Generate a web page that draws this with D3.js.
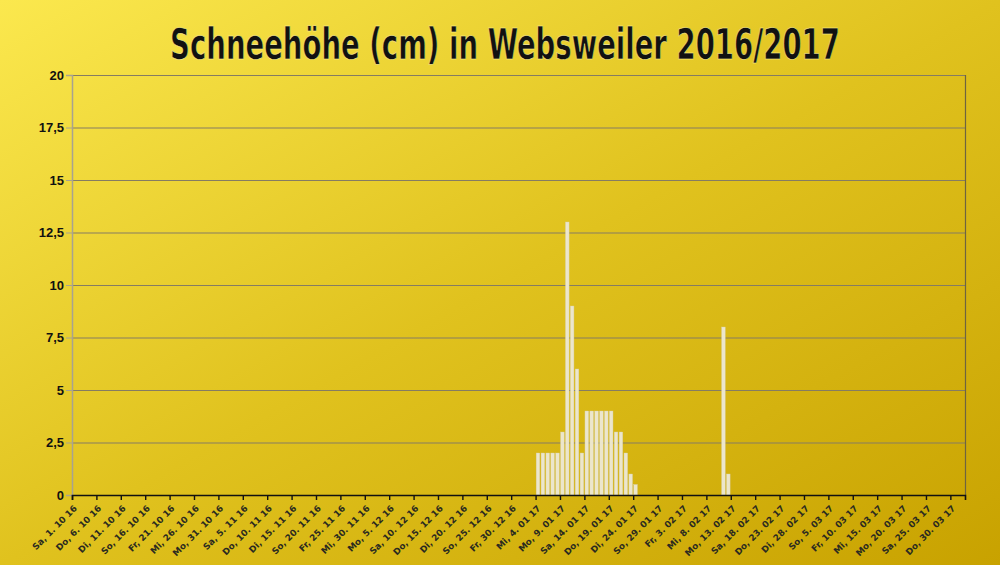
<!DOCTYPE html>
<html><head><meta charset="utf-8">
<script src="https://cdn.jsdelivr.net/npm/d3@7"></script>
<style>body{margin:0;overflow:hidden}svg{display:block}</style>
</head><body>
<svg id="c" width="1000" height="565"></svg>
<script>
const title = "Schneehöhe (cm) in Websweiler 2016/2017";
// day index 0 = Sa, 1.10.2016 ; domain spans 183 days
const dayCount = 183;
const tickDays = d3.range(0, 181, 5);
const tickLabels = ["Sa, 1. 10 16","Do, 6. 10 16","Di, 11. 10 16","So, 16. 10 16","Fr, 21. 10 16","Mi, 26. 10 16","Mo, 31. 10 16","Sa, 5. 11 16","Do, 10. 11 16","Di, 15. 11 16","So, 20. 11 16","Fr, 25. 11 16","Mi, 30. 11 16","Mo, 5. 12 16","Sa, 10. 12 16","Do, 15. 12 16","Di, 20. 12 16","So, 25. 12 16","Fr, 30. 12 16","Mi, 4. 01 17","Mo, 9. 01 17","Sa, 14. 01 17","Do, 19. 01 17","Di, 24. 01 17","So, 29. 01 17","Fr, 3. 02 17","Mi, 8. 02 17","Mo, 13. 02 17","Sa, 18. 02 17","Do, 23. 02 17","Di, 28. 02 17","So, 5. 03 17","Fr, 10. 03 17","Mi, 15. 03 17","Mo, 20. 03 17","Sa, 25. 03 17","Do, 30. 03 17"];
// snow days (day index) and snow depth in cm
const snowDays = [95,96,97,98,99,100,101,102,103,104,105,106,107,108,109,110,111,112,113,114,115,133,134];
const snowDepth = [2,2,2,2,2,3,13,9,6,2,4,4,4,4,4,4,3,3,2,1,0.5,8,1];
const yTicks = [0,2.5,5,7.5,10,12.5,15,17.5,20];

const svg = d3.select("#c");
const defs = svg.append("defs");
const g = defs.append("linearGradient").attr("id","bg").attr("x1","0").attr("y1","0").attr("x2","1").attr("y2","1");
g.append("stop").attr("offset","0").attr("stop-color","#fbe84e");
g.append("stop").attr("offset","0.5").attr("stop-color","#e0c21e");
g.append("stop").attr("offset","1").attr("stop-color","#c8a200");
svg.append("rect").attr("width",1000).attr("height",565).attr("fill","url(#bg)");

const L=72,R=965,T=75,B=495;
const x = d3.scaleLinear().domain([0,dayCount]).range([L,R]);
const y = d3.scaleLinear().domain([0,20]).range([B,T]);

// gridlines
svg.append("g").selectAll("line").data(yTicks.filter(v=>v>0)).join("line")
  .attr("x1",L).attr("x2",R).attr("y1",d=>y(d)+0.5).attr("y2",d=>y(d)+0.5)
  .attr("stroke","#857c62").attr("stroke-width",1.2);
// right border
svg.append("line").attr("x1",R+0.5).attr("x2",R+0.5).attr("y1",T).attr("y2",B).attr("stroke","#6e6440").attr("stroke-width",1.2);
// left axis
const ya = svg.append("g").attr("transform",`translate(${L},0)`)
  .call(d3.axisLeft(y).tickValues(yTicks).tickSize(6).tickFormat(d=>String(d).replace(".",",")));
ya.select(".domain").attr("stroke","#a8a290").attr("stroke-width",1.5);
ya.selectAll(".tick line").attr("stroke","#a8a290");
ya.selectAll("text").attr("font-family","Liberation Sans, Arial, sans-serif").attr("font-weight","bold").attr("font-size",13).attr("fill","#111").attr("x",-8);

// bars
svg.append("g").selectAll("rect").data(snowDays.map((d,i)=>({d,v:snowDepth[i]}))).join("rect")
  .attr("x",d=>x(d.d)+0.6).attr("width",3.6)
  .attr("y",d=>y(d.v)).attr("height",d=>B-y(d.v))
  .attr("fill","#ece6cc").attr("stroke","#d8cfa8").attr("stroke-width",0.4);

// bottom axis
const xa = svg.append("g").attr("transform",`translate(0,${B})`)
  .call(d3.axisBottom(x).tickValues(tickDays).tickSize(5).tickFormat((d,i)=>tickLabels[i]));
xa.select(".domain").attr("stroke","#111").attr("stroke-width",1.6);
xa.selectAll(".tick line").attr("stroke","#111").attr("stroke-width",1.4);
xa.selectAll("text").attr("font-family","DejaVu Sans, sans-serif").attr("font-weight","bold").attr("font-size",8.8).attr("fill","#2a2a20")
  .attr("text-anchor","end").attr("y",0).attr("dy",0)
  .attr("transform","translate(5,14) rotate(-45)");

// title
const tt = svg.append("text").attr("x",0).attr("y",0).attr("text-anchor","middle")
  .attr("font-family","DejaVu Sans Condensed, DejaVu Sans, sans-serif").attr("font-weight","bold")
  .attr("font-size",43).attr("fill","#111").attr("stroke","#fff4a0").attr("stroke-width",0.5).text(title);
const w = tt.node().getComputedTextLength();
tt.attr("transform",`translate(505,59) scale(${670/w},1)`);
</script>
</body></html>
